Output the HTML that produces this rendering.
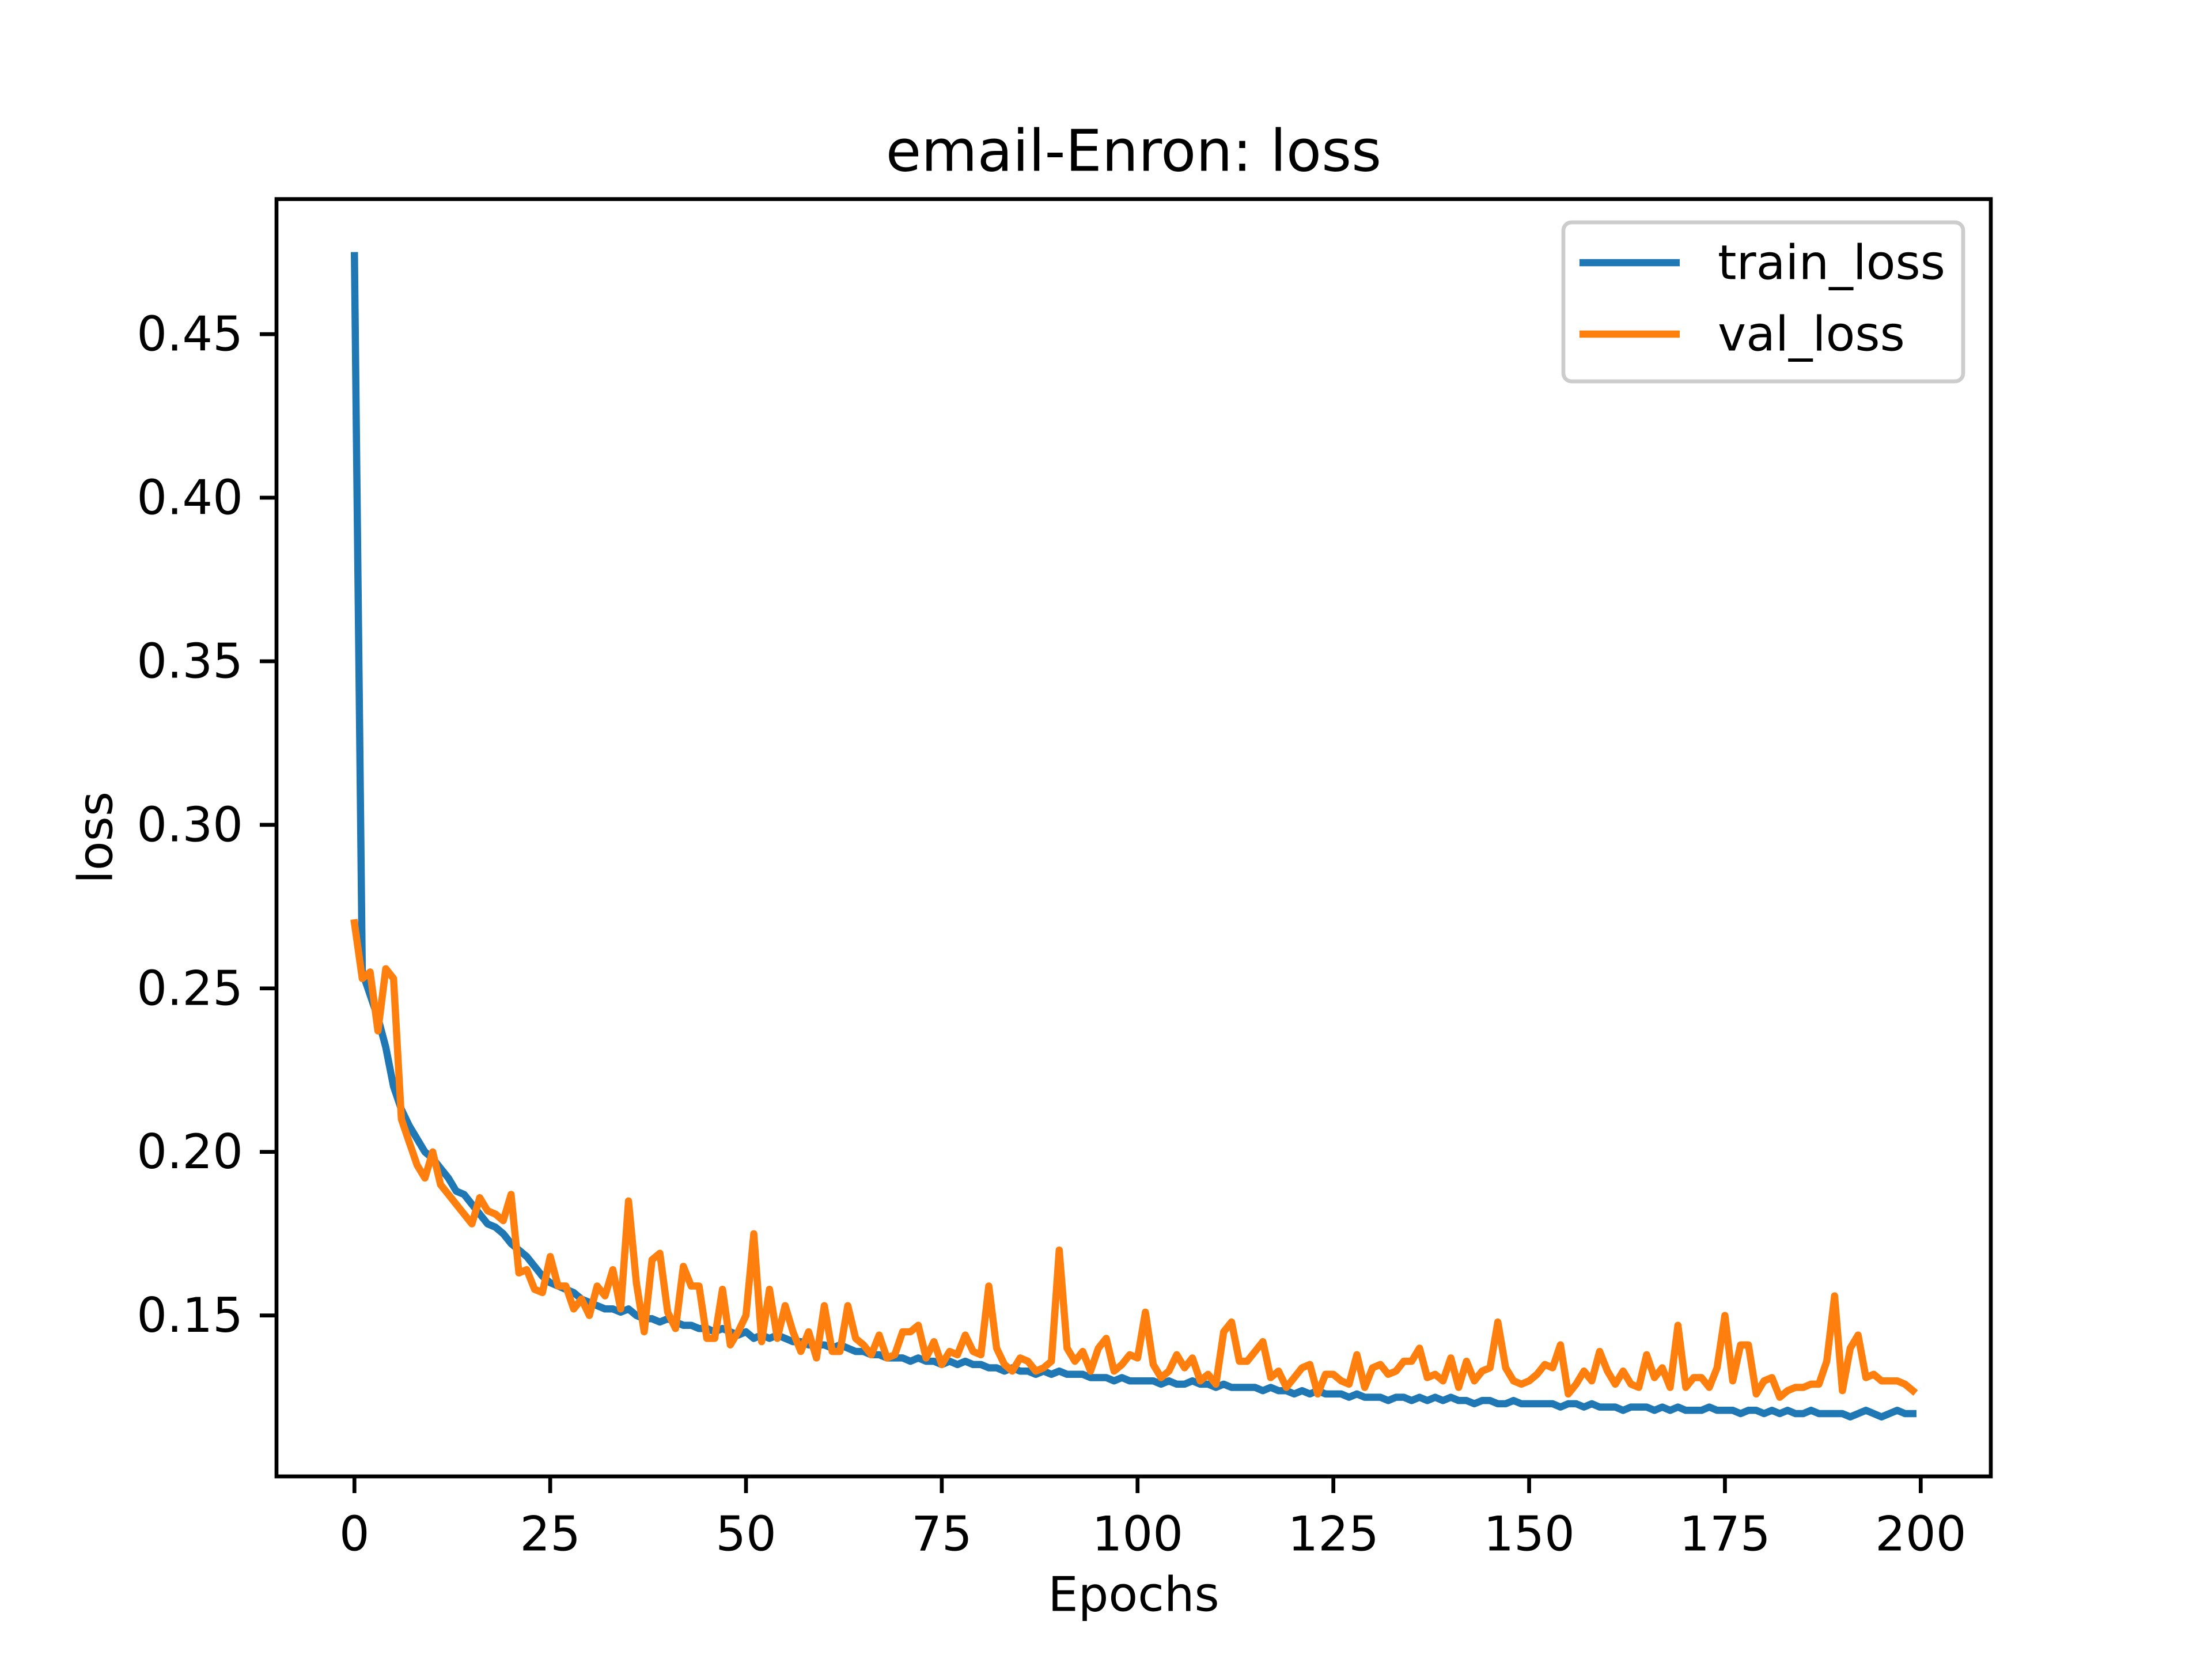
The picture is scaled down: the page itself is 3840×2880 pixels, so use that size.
<!DOCTYPE html>
<html><head><meta charset="utf-8"><style>
html,body{margin:0;padding:0;background:#fff;}
svg{display:block;font-family:"DejaVu Sans","Liberation Sans",sans-serif;}
</style></head><body>
<svg id="chart" width="3840" height="2880" viewBox="0 0 3840 2880">
<rect width="3840" height="2880" fill="#fff"/>
<text x="1968" y="262" font-size="100" text-anchor="middle" dominant-baseline="central">email-Enron: loss</text>
<g id="plot"></g>
<rect x="480" y="345.6" width="2976" height="2217.4" fill="none" stroke="#000" stroke-width="6.7"/>
<text x="1968" y="2768" font-size="83" text-anchor="middle" dominant-baseline="central">Epochs</text>
<text x="166" y="1454" font-size="83" text-anchor="middle" dominant-baseline="central" transform="rotate(-90 166 1454)">loss</text>
<g>
<rect x="2714" y="386" width="694" height="276" rx="14" fill="#fff" fill-opacity="0.8" stroke="#ccc" stroke-width="6.7"/>
<line x1="2742" y1="456" x2="2916" y2="456" stroke="#1f77b4" stroke-width="12.5"/>
<text x="2982" y="456" font-size="83" dominant-baseline="central">train_loss</text>
<line x1="2742" y1="580" x2="2916" y2="580" stroke="#ff7f0e" stroke-width="12.5"/>
<text x="2982" y="580" font-size="83" dominant-baseline="central">val_loss</text>
</g>
</svg>
<script>
const xTicks=[0,25,50,75,100,125,150,175,200];
const yTicks=[0.15,0.20,0.25,0.30,0.35,0.40,0.45];
const yTickLabels=["0.15","0.20","0.25","0.30","0.35","0.40","0.45"];
const trainLoss=[0.474,0.255,0.248,0.241,0.232,0.220,0.213,0.208,0.204,0.200,
0.198,0.195,0.192,0.188,0.187,0.184,0.181,0.178,0.177,0.175,
0.172,0.170,0.168,0.165,0.162,0.160,0.159,0.158,0.157,0.155,
0.154,0.153,0.152,0.152,0.151,0.152,0.150,0.149,0.149,0.148,
0.149,0.148,0.147,0.147,0.146,0.146,0.145,0.146,0.145,0.144,
0.145,0.143,0.144,0.143,0.144,0.143,0.142,0.142,0.141,0.141,
0.141,0.140,0.141,0.140,0.139,0.139,0.138,0.138,0.137,0.137,
0.137,0.136,0.137,0.136,0.136,0.135,0.136,0.135,0.136,0.135,
0.135,0.134,0.134,0.133,0.134,0.133,0.133,0.132,0.133,0.132,
0.133,0.132,0.132,0.132,0.131,0.131,0.131,0.130,0.131,0.130,
0.130,0.130,0.130,0.129,0.130,0.129,0.129,0.130,0.129,0.129,
0.128,0.129,0.128,0.128,0.128,0.128,0.127,0.128,0.127,0.127,
0.126,0.127,0.126,0.127,0.126,0.126,0.126,0.125,0.126,0.125,
0.125,0.125,0.124,0.125,0.125,0.124,0.125,0.124,0.125,0.124,
0.125,0.124,0.124,0.123,0.124,0.124,0.123,0.123,0.124,0.123,
0.123,0.123,0.123,0.123,0.122,0.123,0.123,0.122,0.123,0.122,
0.122,0.122,0.121,0.122,0.122,0.122,0.121,0.122,0.121,0.122,
0.121,0.121,0.121,0.122,0.121,0.121,0.121,0.120,0.121,0.121,
0.120,0.121,0.120,0.121,0.120,0.120,0.121,0.120,0.120,0.120,
0.120,0.119,0.120,0.121,0.120,0.119,0.120,0.121,0.120,0.120];
const valLoss=[0.270,0.253,0.255,0.237,0.256,0.253,0.210,0.203,0.196,0.192,0.200,0.190,0.187,0.184,0.181,0.178,0.186,0.182,0.181,0.179,0.187,0.163,0.164,0.158,0.157,0.168,0.159,0.159,0.152,0.155,0.150,0.159,0.156,0.164,0.152,0.185,0.160,0.145,0.167,0.169,0.151,0.146,0.165,0.159,0.159,0.143,0.143,0.158,0.141,0.145,0.150,0.175,0.142,0.158,0.143,0.153,0.145,0.139,0.145,0.137,0.153,0.139,0.139,0.153,0.143,0.141,0.138,0.144,0.137,0.138,0.145,0.145,0.147,0.137,0.142,0.135,0.139,0.138,0.144,0.139,0.138,0.159,0.140,0.135,0.133,0.137,0.136,0.133,0.134,0.136,0.170,0.140,0.136,0.139,0.133,0.140,0.143,0.133,0.135,0.138,0.137,0.151,0.135,0.131,0.133,0.138,0.134,0.137,0.130,0.132,0.129,0.145,0.148,0.136,0.136,0.139,0.142,0.131,0.133,0.128,0.131,0.134,0.135,0.126,0.132,0.132,0.130,0.129,0.138,0.128,0.134,0.135,0.132,0.133,0.136,0.136,0.140,0.131,0.132,0.130,0.137,0.128,0.136,0.130,0.133,0.134,0.148,0.134,0.130,0.129,0.130,0.132,0.135,0.134,0.141,0.126,0.129,0.133,0.130,0.139,0.133,0.129,0.133,0.129,0.128,0.138,0.131,0.134,0.128,0.147,0.128,0.131,0.131,0.128,0.134,0.150,0.130,0.141,0.141,0.126,0.130,0.131,0.125,0.127,0.128,0.128,0.129,0.129,0.136,0.156,0.127,0.140,0.144,0.131,0.132,0.130,0.130,0.130,0.129,0.127];

const L=480,R=3456,T=345.6,B=2563;
const xMin=-9.95,xMax=208.95,yMin=0.1008,yMax=0.4913;
function sx(v){return L+(v-xMin)/(xMax-xMin)*(R-L);}
function sy(v){return B-(v-yMin)/(yMax-yMin)*(B-T);}
const NS="http://www.w3.org/2000/svg";
const plot=document.getElementById('plot');
function mk(tag,attrs){const e=document.createElementNS(NS,tag);for(const k in attrs)e.setAttribute(k,attrs[k]);return e;}

xTicks.forEach(t=>{
  const x=sx(t);
  const tk=mk('line',{x1:x,x2:x,y1:B,y2:B+29,stroke:'#000','stroke-width':6.7});
  
  
  plot.appendChild(tk);
  const lb=mk('text',{x:x,y:B+100,'font-size':83,'text-anchor':'middle','dominant-baseline':'central'});
  lb.textContent=String(t);
  
  
  plot.appendChild(lb);
});
yTicks.forEach((t,i)=>{
  const y=sy(t);
  const tk=mk('line',{x1:L-29,x2:L,y1:y,y2:y,stroke:'#000','stroke-width':6.7});
  
  
  plot.appendChild(tk);
  const lb=mk('text',{x:L-58,y:y,'font-size':83,'text-anchor':'end','dominant-baseline':'central'});
  lb.textContent=yTickLabels[i];
  
  
  plot.appendChild(lb);
});
function series(arr,color,name){
  const pts=arr.map((v,i)=>sx(i).toFixed(1)+','+sy(v).toFixed(1)).join(' ');
  const p=mk('polyline',{points:pts,fill:'none',stroke:color,'stroke-width':12.5,'stroke-linejoin':'round','stroke-linecap':'square'});
  
  
  plot.appendChild(p);
}
series(trainLoss,'#1f77b4','train-loss-line');
series(valLoss,'#ff7f0e','val-loss-line');
</script>
</body></html>
